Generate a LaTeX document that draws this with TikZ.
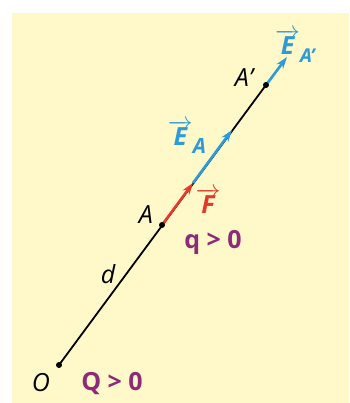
\documentclass[tikz,border=0pt]{standalone}
\usepackage{fontspec}
\setmainfont{Open Sans}
\usetikzlibrary{arrows.meta}
\definecolor{paper}{HTML}{FFF9CA}
\definecolor{forcered}{HTML}{E43A2C}
\definecolor{fieldblue}{HTML}{2C9BD8}
\definecolor{chargepurple}{HTML}{8E2A78}
\newcommand{\vect}[1]{$\overrightarrow{\mbox{#1}}$}
\begin{document}
\begin{tikzpicture}[x=1pt, y=1pt, >={Stealth[length=12pt,width=8pt]},
    lbl/.style={font=\fontsize{25}{30}\selectfont\itshape},
    vlbl/.style={font=\fontsize{25}{30}\selectfont\bfseries\itshape},
    chg/.style={font=\fontsize{25}{30}\selectfont\bfseries, text=chargepurple}]
    % background
    \useasboundingbox (0,0) rectangle (349,403);
    \fill[paper] (12,0) rectangle (349,390);
    % points on the line
    \coordinate (O) at (59,38);
    \coordinate (A) at (162,178);
    \coordinate (Ap) at (266,318);
    \coordinate (Ftip) at (193,220);
    \coordinate (EAtip) at (232,273);
    \coordinate (EAptip) at (287,346);
    \draw[line width=1.8pt] (O) -- (Ap);
    % vectors
    \draw[->, line width=2.6pt, fieldblue] (Ftip) -- (EAtip);
    \draw[->, line width=2.6pt, forcered] (A) -- (Ftip);
    \draw[->, line width=2.6pt, fieldblue] (Ap) -- (EAptip);
    \fill (O) circle (3);
    \fill (A) circle (3);
    \fill (Ap) circle (3);
    % labels
    \node[lbl] (lO) at (41,20) {O};
    \node[chg] (lQ) at (112,19) {Q > 0};
    \node[lbl] (lA) at (146,188) {A};
    \node[lbl] (ld) at (108,129) {d};
    \node[chg] (lq) at (213,161) {q > 0};
    \node[vlbl, text=forcered] (lF) at (208,202) {\vect{F}};
    \node[lbl] (lAp) at (244,325) {A'};
    \node[vlbl, text=fieldblue] (lEA) at (187,266) {\vect{E}\raisebox{-8pt}{\fontsize{21}{24}\selectfont A}};
    \node[vlbl, text=fieldblue] (lEAp) at (295,357) {\vect{E}\raisebox{-8pt}{\fontsize{19}{22}\selectfont A'}};
\end{tikzpicture}
\end{document}
